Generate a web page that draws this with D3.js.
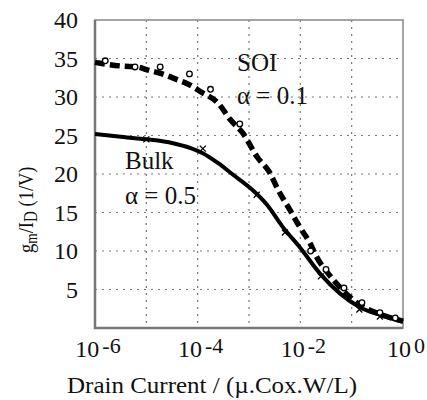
<!DOCTYPE html>
<html>
<head>
<meta charset="utf-8">
<script src="https://cdn.jsdelivr.net/npm/d3@7"></script>
<style>
  html, body { margin: 0; padding: 0; background: #fff; }
  svg { display: block; }
</style>
</head>
<body>
<svg id="chart" width="427" height="400"></svg>
<script>
// log10 of normalised drain current and gm/ID (1/V)
const soiLogI = [-6, -5.45, -5.18, -4.97, -4.69, -4.38, -4.19, -3.92, -3.6, -3.37, -3.12, -2.84, -2.59, -2.43, -2.2, -2.01, -1.81, -1.68, -1.46, -1.23, -0.84, -0.45, 0];
const soiGm   = [34.5, 34.0, 33.9, 33.5, 33.0, 32.2, 31.7, 30.6, 29.2, 27.1, 25.3, 22.2, 20.1, 17.9, 15.3, 13.1, 11.0, 9.2, 7.1, 5.3, 3.0, 1.8, 0.9];
const bulkLogI = [-6, -5.45, -4.99, -4.48, -4.15, -3.9, -3.6, -3.31, -2.98, -2.65, -2.34, -2.01, -1.62, -1.23, -0.84, -0.45, 0];
const bulkGm   = [25.2, 24.8, 24.5, 24.0, 23.4, 22.7, 21.4, 19.9, 18.2, 16.0, 13.1, 10.5, 7.1, 4.5, 2.7, 1.7, 0.8];

// measured points (open circles: SOI, crosses: bulk)
const soiPtLogI = [-5.8, -5.22, -4.73, -4.16, -3.75, -3.18, -1.8, -1.5, -1.15, -0.8, -0.45, -0.15];
const soiPtGm   = [34.7, 33.9, 33.9, 33.0, 31.0, 26.5, 10.0, 7.6, 5.2, 3.3, 2.0, 1.3];
const bulkPtLogI = [-5.0, -3.9, -2.85, -2.3, -1.6, -0.85, -0.45];
const bulkPtGm   = [24.5, 23.3, 17.3, 12.4, 6.7, 2.4, 1.5];

const yTicks = [5, 10, 15, 20, 25, 30, 35, 40];
const xGrid = [-6, -5, -4, -3, -2, -1, 0];
const xLabelExp = ["-6", "-4", "-2", "0"];

const svg = d3.select("#chart")
  .attr("font-family", "'Liberation Serif', 'Times New Roman', Times, 'DejaVu Serif', serif");
const plotL = 95, plotR = 403, plotT = 20, plotB = 328;

const x = d3.scaleLinear().domain([-6, 0]).range([plotL, plotR]);
const y = d3.scaleLinear().domain([0, 40]).range([plotB, plotT]);

// grid
const grid = svg.append("g").attr("stroke", "#777").attr("stroke-width", 1.2)
  .attr("stroke-dasharray", "2,5");
grid.selectAll("line.h").data(yTicks.filter(v => v < 40)).join("line")
  .attr("class", "h")
  .attr("x1", plotL).attr("x2", plotR)
  .attr("y1", d => y(d)).attr("y2", d => y(d));
grid.selectAll("line.v").data(xGrid.filter(v => v > -6 && v < 0)).join("line")
  .attr("class", "v")
  .attr("y1", plotT).attr("y2", plotB)
  .attr("x1", d => x(d)).attr("x2", d => x(d));

// frame
svg.append("rect").attr("x", plotL).attr("y", plotT)
  .attr("width", plotR - plotL).attr("height", plotB - plotT)
  .attr("fill", "none").attr("stroke", "#888").attr("stroke-width", 1.5);
svg.append("path")
  .attr("d", `M${plotL},${plotT}V${plotB}H${plotR}`)
  .attr("fill", "none").attr("stroke", "#777").attr("stroke-width", 2.5);

// curves
const line = d3.line().x(d => x(d[0])).y(d => y(d[1])).curve(d3.curveMonotoneX);
svg.append("path").datum(bulkLogI.map((v, i) => [v, bulkGm[i]]))
  .attr("d", line).attr("fill", "none").attr("stroke", "#000")
  .attr("stroke-width", 4);
svg.append("path").datum(soiLogI.map((v, i) => [v, soiGm[i]]))
  .attr("d", line).attr("fill", "none").attr("stroke", "#000")
  .attr("stroke-width", 5.5).attr("stroke-dasharray", "10,5");

// markers
svg.append("g").selectAll("circle").data(soiPtLogI.map((v, i) => [v, soiPtGm[i]])).join("circle")
  .attr("cx", d => x(d[0])).attr("cy", d => y(d[1])).attr("r", 2.8)
  .attr("fill", "#fff").attr("stroke", "#000").attr("stroke-width", 1.3);
svg.append("g").selectAll("path").data(bulkPtLogI.map((v, i) => [v, bulkPtGm[i]])).join("path")
  .attr("transform", d => `translate(${x(d[0])},${y(d[1])})`)
  .attr("d", "M-3,-3L3,3M-3,3L3,-3")
  .attr("stroke", "#000").attr("stroke-width", 1.3);

// y tick labels
svg.append("g").selectAll("text").data(yTicks).join("text")
  .attr("x", 78).attr("y", d => y(d)).attr("dy", "0.35em")
  .attr("text-anchor", "end").attr("font-size", 24).attr("fill", "#111")
  .text(d => d);

// x tick labels: 10 with raised exponent
const xl = svg.append("g").selectAll("text").data(xLabelExp).join("text")
  .attr("x", d => x(+d) + 3).attr("y", 357)
  .attr("text-anchor", "middle").attr("font-size", 24).attr("fill", "#111");
xl.append("tspan").text("10");
xl.append("tspan").attr("dx", 3).attr("dy", -4).attr("font-size", 22).text(d => d);

// axis titles
svg.append("text").attr("x", 67).attr("y", 393)
  .attr("font-size", 24).attr("fill", "#111")
  .attr("textLength", 290).attr("lengthAdjust", "spacingAndGlyphs")
  .text("Drain Current / (\u00b5.Cox.W/L)");

// y title: rotated, squeezed along its run
const yt = svg.append("text")
  .attr("transform", "translate(33,253) rotate(-90) scale(0.84,1)")
  .attr("font-size", 22).attr("fill", "#111");
yt.append("tspan").text("g");
yt.append("tspan").attr("font-size", 16).attr("dy", 4).text("m");
yt.append("tspan").attr("dy", -4).text("/I");
yt.append("tspan").attr("font-size", 18).attr("dy", 4).text("D");
yt.append("tspan").attr("dy", -4).text(" (1/V)");

// annotations
const ann = [
  { t: "SOI", x: 237, y: 71 },
  { t: "\u03b1 = 0.1", x: 237, y: 104 },
  { t: "Bulk", x: 125, y: 169 },
  { t: "\u03b1 = 0.5", x: 125, y: 204 }
];
svg.append("g").selectAll("text").data(ann).join("text")
  .attr("x", d => d.x).attr("y", d => d.y).attr("font-size", 25).attr("fill", "#111")
  .text(d => d.t);
</script>
</body>
</html>
